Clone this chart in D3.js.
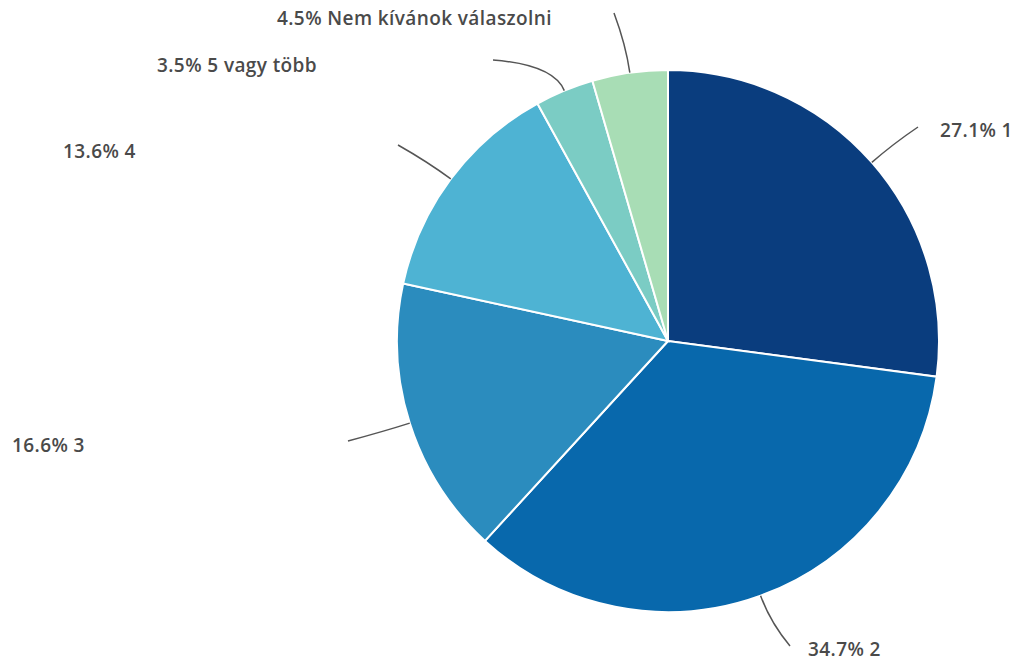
<!DOCTYPE html>
<html><head><meta charset="utf-8">
<script src="https://cdn.jsdelivr.net/npm/d3@7"></script>
<style>
html,body{margin:0;padding:0;background:#fff;}
svg{display:block;}
text{font-family:"Open Sans",sans-serif;font-weight:600;font-size:19px;letter-spacing:0.4px;fill:#4a4a4a;}
</style></head>
<body>
<svg id="chart" width="1020" height="663"></svg>
<script>
// Data
const categories = ["1", "2", "3", "4", "5 vagy több", "Nem kívánok válaszolni"];
const values = [27.1, 34.7, 16.6, 13.6, 3.5, 4.5];
const colors = ["#0a3d7e", "#0868ac", "#2b8cbe", "#4eb3d3", "#7bccc4", "#a8ddb5"];

// Layout (label text anchors and leader ends)
const layout = {
  cx: 668, cy: 341, r: 271,
  labelPos: [[940,130],[808,649],[12,445],[63,151],[157,65],[277,18]],
  leaderEnd: [[918,127], [790,646], [348,441], [398,145], [493,60], [614,13]]
};

const svg = d3.select("#chart");
const g = svg.append("g").attr("transform", `translate(${layout.cx},${layout.cy})`);

const data = categories.map((c,i)=>({cat:c, value:values[i], color:colors[i], i}));
const pie = d3.pie().value(d=>d.value).sort(null);
const arcs = pie(data);
const arc = d3.arc().innerRadius(0).outerRadius(layout.r);

g.selectAll("path.slice").data(arcs).join("path")
  .attr("class","slice")
  .attr("d", arc)
  .attr("fill", d=>d.data.color)
  .attr("stroke","#fff").attr("stroke-width",2);

function polar(a, rr){ return [rr*Math.sin(a), -rr*Math.cos(a)]; }

arcs.forEach((d,i)=>{
  const mid = (d.startAngle + d.endAngle)/2;
  const p0 = polar(mid, layout.r);
  const p1 = polar(mid, layout.r + 28);
  const p2 = [layout.leaderEnd[i][0]-layout.cx, layout.leaderEnd[i][1]-layout.cy];
  const path = d3.path();
  path.moveTo(p0[0], p0[1]);
  path.quadraticCurveTo(p1[0], p1[1], p2[0], p2[1]);
  g.append("path").attr("d", path.toString())
    .attr("fill","none").attr("stroke","#555").attr("stroke-width",1.5);
  svg.append("text")
    .attr("x", layout.labelPos[i][0]).attr("y", layout.labelPos[i][1])
    .attr("dy","0.35em")
    .text(d3.format(".1f")(d.data.value) + "% " + d.data.cat);
});
</script>
</body></html>
